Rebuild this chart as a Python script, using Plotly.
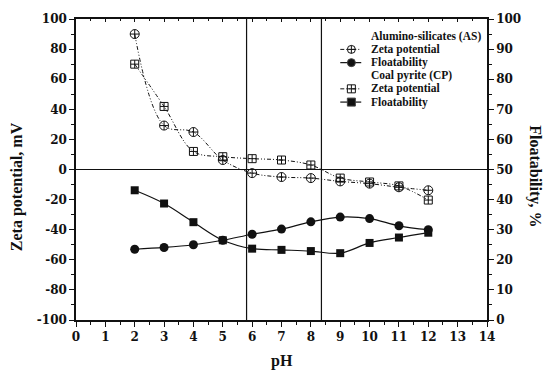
import plotly.graph_objects as go

# pH values shared by all series
ph = [2, 3, 4, 5, 6, 7, 8, 9, 10, 11, 12]

# Zeta potential (mV)
zeta_as = [90, 29.2, 24.9, 6.3, -2.4, -5.0, -5.7, -7.9, -9.4, -11.8, -13.8]
zeta_cp = [70, 41.9, 12.0, 8.5, 7.2, 6.3, 3.0, -5.7, -8.3, -10.9, -20.3]

# Floatability (%)
float_as = [23.5, 24.1, 25.0, 26.5, 28.5, 30.2, 32.6, 34.2, 33.7, 31.3, 30.0]
float_cp = [43.1, 38.7, 32.5, 26.5, 23.7, 23.3, 22.9, 22.2, 25.6, 27.4, 29.0]

# Axis ticks (labels use a plain hyphen for negatives)
zeta_ticks = list(range(-100, 101, 20))
zeta_ticktext = [str(v) for v in zeta_ticks]
ph_ticks = list(range(0, 15))
float_ticks = list(range(0, 101, 10))

# Reference lines: zero charge and the two pH boundaries
zero_line = 0
ph_bounds = [5.81, 8.36]

FONT = "Liberation Serif"
TICK_FONT = "DejaVu Serif"
INK = "#111111"
DASH = "4px,2px,1px,2px,1px,2px"

fig = go.Figure()

fig.add_trace(go.Scatter(
    x=ph, y=zeta_as, mode="lines+markers", line_shape="spline",
    line=dict(color=INK, width=1, dash=DASH),
    marker=dict(symbol="circle-cross-open", size=9, color=INK, line=dict(width=1)),
    showlegend=False))
fig.add_trace(go.Scatter(
    x=ph, y=zeta_cp, mode="lines+markers", line_shape="spline",
    line=dict(color=INK, width=1, dash=DASH),
    marker=dict(symbol="square-cross-open", size=8, color=INK, line=dict(width=1)),
    showlegend=False))
fig.add_trace(go.Scatter(
    x=ph, y=float_as, yaxis="y2", mode="lines+markers", line_shape="spline",
    line=dict(color=INK, width=1.2),
    marker=dict(symbol="circle", size=9, color=INK),
    showlegend=False))
fig.add_trace(go.Scatter(
    x=ph, y=float_cp, yaxis="y2", mode="lines+markers", line_shape="spline",
    line=dict(color=INK, width=1.2),
    marker=dict(symbol="square", size=8, color=INK),
    showlegend=False))

# top frame axis carrying inward ticks
fig.add_trace(go.Scatter(x=[None], y=[None], xaxis="x2", showlegend=False,
                         hoverinfo="skip"))

# Hand-laid legend, positioned in plot-area fractions (x3/y3 span 0..1)
legend_rows = [
    ("Alumino-silicates (AS)", None, None),
    ("Zeta potential", "circle-cross-open", DASH),
    ("Floatability", "circle", "solid"),
    ("Coal pyrite (CP)", None, None),
    ("Zeta potential", "square-cross-open", DASH),
    ("Floatability", "square", "solid"),
]
row_y = [0.943, 0.899, 0.855, 0.811, 0.768, 0.724]
key_x0, key_xm, key_x1, text_x = 0.643, 0.670, 0.694, 0.714

for (label, sym, dash), yy in zip(legend_rows, row_y):
    if sym is not None:
        fig.add_trace(go.Scatter(
            x=[key_x0, key_x1], y=[yy, yy], xaxis="x3", yaxis="y3",
            mode="lines", line=dict(color=INK, width=1 if dash != "solid" else 1.2, dash=dash),
            showlegend=False, hoverinfo="skip"))
        fig.add_trace(go.Scatter(
            x=[key_xm], y=[yy], xaxis="x3", yaxis="y3", mode="markers",
            marker=dict(symbol=sym, size=8, color=INK, line=dict(width=1)),
            showlegend=False, hoverinfo="skip"))
    fig.add_annotation(x=text_x, y=yy, xref="paper", yref="paper", text=label,
                       showarrow=False, xanchor="left", yanchor="middle",
                       font=dict(family=FONT, size=11.5, color=INK, weight="bold"))

shapes = [dict(type="line", xref="paper", x0=0, x1=1, yref="y", y0=zero_line, y1=zero_line,
               line=dict(color=INK, width=1.2))]
for b in ph_bounds:
    shapes.append(dict(type="line", xref="x", x0=b, x1=b, yref="paper", y0=0, y1=1,
                       line=dict(color=INK, width=1.2)))

tick_font = dict(family=TICK_FONT, size=12, color=INK, weight="bold")
title_font = dict(family=FONT, size=16, color=INK, weight="bold")

fig.update_layout(
    width=545, height=374,
    margin=dict(l=76, r=57.5, t=14.6, b=54),
    paper_bgcolor="white", plot_bgcolor="white",
    showlegend=False,
    shapes=shapes,
    xaxis=dict(range=[0, 14], tickvals=ph_ticks, showgrid=False, zeroline=False,
               showline=True, linecolor=INK, linewidth=1.5,
               ticks="outside", ticklen=5, tickwidth=1.2, tickcolor=INK,
               minor=dict(dtick=0.5, ticks="outside", ticklen=3, tickcolor=INK, tickwidth=1),
               tickfont=tick_font),
    xaxis2=dict(range=[0, 14], overlaying="x", side="top", dtick=1, showgrid=False,
                zeroline=False, showline=True, linecolor=INK, linewidth=1.5,
                ticks="inside", ticklen=3, tickwidth=1, tickcolor=INK,
                minor=dict(dtick=0.5, ticks="inside", ticklen=2, tickcolor=INK),
                showticklabels=False),
    yaxis=dict(range=[-100, 100], tickvals=zeta_ticks, ticktext=zeta_ticktext,
               showgrid=False, zeroline=False,
               showline=True, linecolor=INK, linewidth=1.5,
               ticks="outside", ticklen=5, tickwidth=1.2, tickcolor=INK,
               minor=dict(dtick=10, ticks="outside", ticklen=3, tickcolor=INK, tickwidth=1),
               tickfont=tick_font),
    yaxis2=dict(range=[0, 100], tickvals=float_ticks, overlaying="y", side="right",
                showgrid=False, zeroline=False, showline=True, linecolor=INK, linewidth=1.5,
                ticks="outside", ticklen=5, tickwidth=1.2, tickcolor=INK,
                minor=dict(dtick=5, ticks="outside", ticklen=3, tickcolor=INK, tickwidth=1),
                tickfont=tick_font),
    xaxis3=dict(range=[0, 1], overlaying="x", visible=False, fixedrange=True),
    yaxis3=dict(range=[0, 1], overlaying="y", visible=False, fixedrange=True),
)

# Axis titles
fig.add_annotation(x=0.5, y=-0.1375, xref="paper", yref="paper", text="pH",
                   showarrow=False, xanchor="center", yanchor="middle", font=title_font)
fig.add_annotation(x=-0.143, y=0.442, xref="paper", yref="paper",
                   text="Zeta potential, mV", textangle=-90, showarrow=False,
                   xanchor="center", yanchor="middle", font=title_font)
fig.add_annotation(x=1.118, y=0.476, xref="paper", yref="paper",
                   text="Floatability, %", textangle=90, showarrow=False,
                   xanchor="center", yanchor="middle", font=title_font)

fig.write_html("out.html")
